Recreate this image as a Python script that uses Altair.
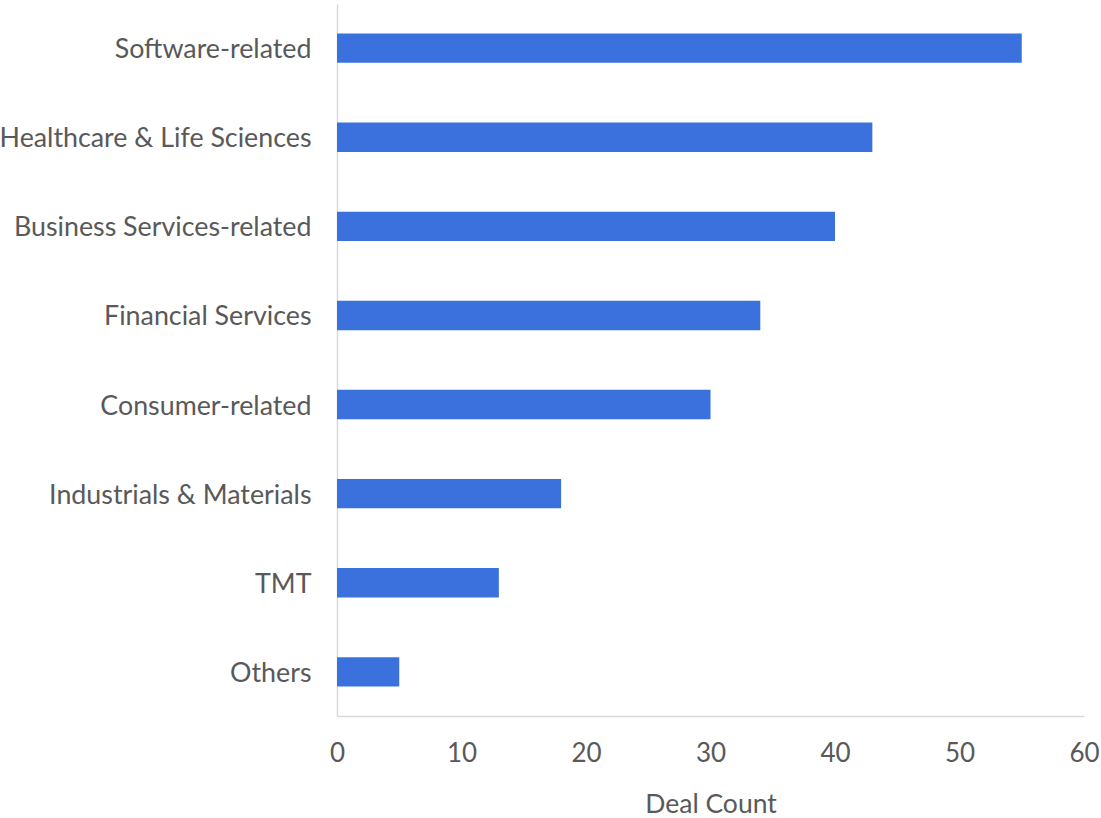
import altair as alt
import pandas as pd

categories = ["Software-related", "Healthcare & Life Sciences", "Business Services-related",
              "Financial Services", "Consumer-related", "Industrials & Materials", "TMT", "Others"]
deal_counts = [55, 43, 40, 34, 30, 18, 13, 5]

df = pd.DataFrame({"Sector": categories, "Deal Count": deal_counts})

chart = alt.Chart(df).mark_bar(color="#3a71dc").encode(
    x=alt.X("Deal Count:Q",
            scale=alt.Scale(domain=[0, 60], nice=False),
            axis=alt.Axis(values=[0, 10, 20, 30, 40, 50, 60], grid=False, ticks=False,
                          domainColor="#d9d9d9", domainWidth=1.5, labelFlush=False,
                          labelFont="Lato", labelFontSize=26, labelColor="#595959",
                          labelPadding=24, title="Deal Count", titleFont="Lato",
                          titleFontSize=26.5, titleFontWeight="normal", titleColor="#595959",
                          titlePadding=25)),
    y=alt.Y("Sector:N", sort=categories,
            scale=alt.Scale(paddingInner=0.67, paddingOuter=0.33),
            axis=alt.Axis(title=None, grid=False, ticks=False,
                          domainColor="#d9d9d9", domainWidth=1.5,
                          labelFont="Lato", labelFontSize=26.8, labelColor="#595959",
                          labelPadding=26, labelLimit=400, labelOffset=2)),
).properties(
    width=747, height=712,
    background="white",
    autosize=alt.AutoSizeParams(type="none"),
    padding={"left": 337, "top": 4, "right": 17, "bottom": 102},
).configure_view(strokeWidth=0)

chart.save("out.html", embed_options={"renderer": "svg", "actions": False})
